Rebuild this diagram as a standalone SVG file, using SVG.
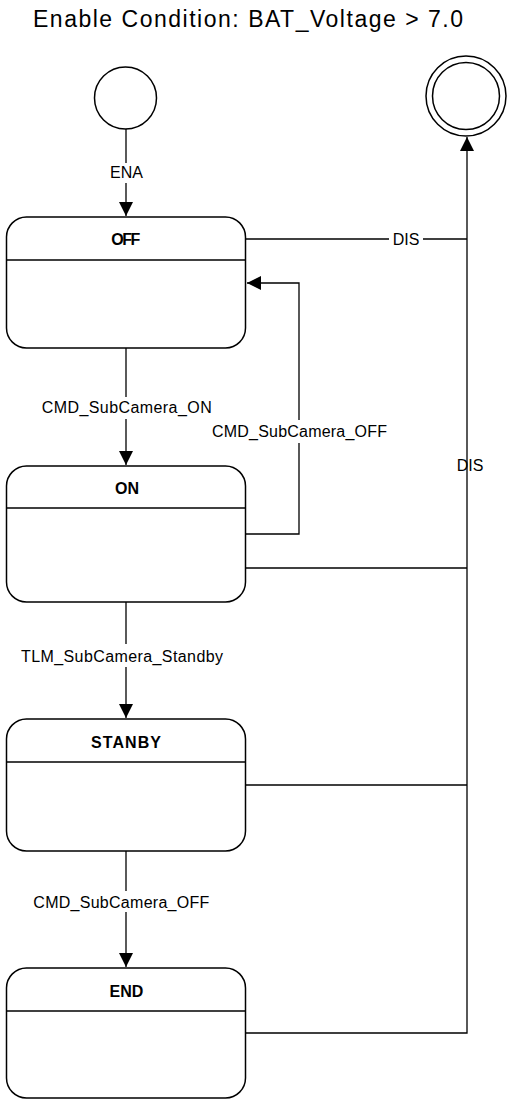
<svg xmlns="http://www.w3.org/2000/svg" width="509" height="1099" viewBox="0 0 509 1099">
<style>
.state{fill:#fff;stroke:#000;stroke-width:1.5}
.hdr{stroke:#000;stroke-width:1.5}
.ttl{font-family:"Liberation Sans",Arial,sans-serif;font-weight:bold;font-size:16px;text-anchor:middle;fill:#000}
.lbl{font-family:"Liberation Sans",Arial,sans-serif;font-size:16px;text-anchor:middle;fill:#000}
.edge{fill:none;stroke:#000;stroke-width:1.3}
.bg{fill:#fff}
</style>
<defs>
<marker id="arr" markerUnits="userSpaceOnUse" markerWidth="15" markerHeight="15" refX="14" refY="7" orient="auto" viewBox="0 0 15 14">
<path d="M0,0 L14,7 L0,14 z" fill="#000"/>
</marker>
</defs>
<rect width="509" height="1099" fill="#fff"/>
<text x="248" y="27" font-family="'Liberation Sans',Arial,sans-serif" font-size="23" text-anchor="middle" textLength="430" lengthAdjust="spacing">Enable Condition: BAT_Voltage &gt; 7.0</text>

<g id="connectors">
<path class="edge" d="M126,129 L126,216" marker-end="url(#arr)"/>
<path class="edge" d="M126,348 L126,465" marker-end="url(#arr)"/>
<path class="edge" d="M126,602 L126,718" marker-end="url(#arr)"/>
<path class="edge" d="M126,851 L126,967" marker-end="url(#arr)"/>
<path class="edge" d="M246,534 L299,534 L299,283 L247,283" marker-end="url(#arr)"/>
<path class="edge" d="M246,239 L467,239"/>
<path class="edge" d="M246,568 L467,568"/>
<path class="edge" d="M246,785 L467,785"/>
<path class="edge" d="M246,1033 L467,1033 L467,137" stroke-width="1.6" marker-end="url(#arr)"/>
<rect class="bg" x="103" y="163" width="47" height="20"/>
<text class="lbl" x="126.5" y="178">ENA</text>
<rect class="bg" x="389" y="230" width="34" height="18"/>
<text class="lbl" x="406" y="244.5">DIS</text>
<rect class="bg" x="40" y="397" width="174" height="22"/>
<text class="lbl" x="126.7" y="412.5" textLength="170" lengthAdjust="spacing">CMD_SubCamera_ON</text>
<rect class="bg" x="210" y="420" width="179" height="23"/>
<text class="lbl" x="299.5" y="437" textLength="175" lengthAdjust="spacing">CMD_SubCamera_OFF</text>
<text class="lbl" x="470" y="471">DIS</text>
<rect class="bg" x="19" y="644" width="206" height="23"/>
<text class="lbl" x="122" y="662" textLength="202" lengthAdjust="spacing">TLM_SubCamera_Standby</text>
<rect class="bg" x="31" y="891" width="180" height="21"/>
<text class="lbl" x="121.3" y="908" textLength="176" lengthAdjust="spacing">CMD_SubCamera_OFF</text>
</g>

<g id="initial">
<circle cx="125.5" cy="98" r="31" fill="#fff" stroke="#000" stroke-width="1.5"/>
</g>
<g id="final">
<circle cx="466" cy="96" r="40" fill="#fff" stroke="#000" stroke-width="1.5"/>
<circle cx="466" cy="96" r="33.5" fill="none" stroke="#000" stroke-width="1.5"/>
</g>

<g id="OFF">
<rect class="state" x="6.5" y="217" width="239" height="131" rx="20" ry="20"/>
<line class="hdr" x1="6.5" y1="260" x2="245.5" y2="260"/>
<text class="ttl" x="125" y="245" letter-spacing="-1.5">OFF</text>
</g>
<g id="ON">
<rect class="state" x="6.5" y="466" width="239" height="136" rx="20" ry="20"/>
<line class="hdr" x1="6.5" y1="508" x2="245.5" y2="508"/>
<text class="ttl" x="127" y="494">ON</text>
</g>
<g id="STANBY">
<rect class="state" x="6.5" y="719" width="239" height="132" rx="20" ry="20"/>
<line class="hdr" x1="6.5" y1="762" x2="245.5" y2="762"/>
<text class="ttl" x="126" y="747.5" textLength="70" lengthAdjust="spacing">STANBY</text>
</g>
<g id="END">
<rect class="state" x="6.5" y="968" width="239" height="130" rx="20" ry="20"/>
<line class="hdr" x1="6.5" y1="1011" x2="245.5" y2="1011"/>
<text class="ttl" x="126.5" y="996.5">END</text>
</g>
</svg>
